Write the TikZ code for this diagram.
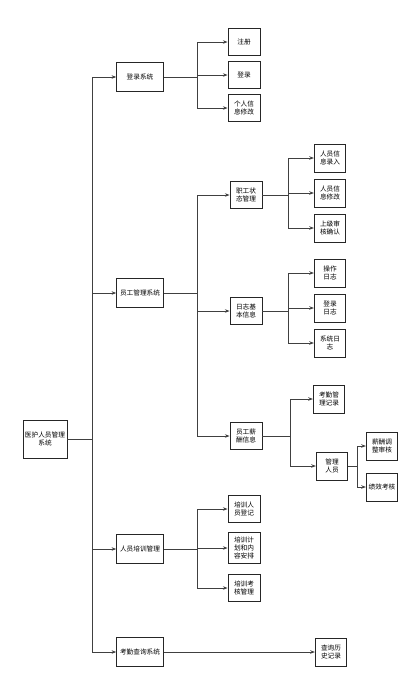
\documentclass[tikz,border=0pt]{standalone}
\usepackage{fontspec}
\newfontfamily\cjk{Noto Sans CJK SC}
\usetikzlibrary{arrows.meta,calc}

\begin{document}
\begin{tikzpicture}[x=0.75pt,y=-0.75pt,
  box/.style={draw=black!85,line width=0.6pt,fill=white,align=center,inner sep=1pt,
    font=\cjk\fontsize{5}{6.2}\selectfont},
  rootbox/.style={box,minimum width=33pt,minimum height=28.5pt},
  lvone/.style={box,minimum width=35pt,minimum height=22pt},
  lvtwo/.style={box,minimum width=24pt,minimum height=20pt},
  lvthree/.style={box,minimum width=23.5pt,minimum height=21pt},
  link/.style={draw=black!75,line width=0.6pt},
  arr/.style={link,-{Stealth[length=3.5pt,width=2.6pt]}}]
  \useasboundingbox (0,0) rectangle (413,690);

  % Root
  \node[rootbox] (root) at (45,439) {医护人员管理\\系统};

  % First level
  \node[lvone] (login) at (140,77) {登录系统};
  \node[lvone] (staff) at (140,293) {员工管理系统};
  \node[lvone] (train) at (140,549) {人员培训管理};
  \node[lvone] (query) at (140,652) {考勤查询系统};

  % Login
  \node[lvtwo] (reg) at (244,42) {注册};
  \node[lvtwo] (sign) at (244,75) {登录};
  \node[lvtwo] (info) at (244,108) {个人信\\息修改};

  % Staff
  \node[lvtwo] (state) at (246,195) {职工状\\态管理};
  \node[lvtwo] (logs) at (246,311) {日志基\\本信息};
  \node[lvtwo] (pay) at (246,436) {员工薪\\酬信息};

  \node[lvthree] (sa) at (330,158) {人员信\\息录入};
  \node[lvthree] (sb) at (330,193) {人员信\\息修改};
  \node[lvthree] (sc) at (330,228) {上级审\\核确认};

  \node[lvthree] (la) at (330,273) {操作\\日志};
  \node[lvthree] (lb) at (330,308) {登录\\日志};
  \node[lvthree] (lc) at (330,343) {系统日\\志};

  \node[lvthree] (pa) at (329,399) {考勤管\\理记录};
  \node[lvthree] (pb) at (332,466) {管理\\人员};
  \node[lvthree] (pba) at (382,446) {薪酬调\\整审核};
  \node[lvthree] (pbb) at (382,487) {绩效考核};

  % Training
  \node[lvtwo] (ta) at (244,509) {培训人\\员登记};
  \node[lvtwo,minimum height=23pt] (tb) at (244,548) {培训计\\划和内\\容安排};
  \node[lvtwo] (tc) at (244,588) {培训考\\核管理};

  % Query
  \node[lvthree] (qa) at (331,652) {查询历\\史记录};

  % Branch points
  \coordinate (btrunk) at (92,439);
  \coordinate (blogin) at (197,77);
  \coordinate (bstaff) at (197,293);
  \coordinate (btrain) at (197,549);
  \coordinate (bstate) at (288,195);
  \coordinate (blogs) at (288,311);
  \coordinate (bpay) at (290,436);
  \coordinate (bpb) at (357,466);

  % Connectors
  \draw[link] (root) -- (btrunk);
  \foreach \c in {login,staff,train,query}
    \draw[arr] (btrunk) |- (\c.west);
  \draw[link] (login) -- (blogin);
  \foreach \c in {reg,sign,info}
    \draw[arr] (blogin) |- (\c.west);
  \draw[link] (staff) -- (bstaff);
  \foreach \c in {state,logs,pay}
    \draw[arr] (bstaff) |- (\c.west);
  \draw[link] (state) -- (bstate);
  \foreach \c in {sa,sb,sc}
    \draw[arr] (bstate) |- (\c.west);
  \draw[link] (logs) -- (blogs);
  \foreach \c in {la,lb,lc}
    \draw[arr] (blogs) |- (\c.west);
  \draw[link] (pay) -- (bpay);
  \foreach \c in {pa,pb}
    \draw[arr] (bpay) |- (\c.west);
  \draw[link] (pb) -- (bpb);
  \foreach \c in {pba,pbb}
    \draw[arr] (bpb) |- (\c.west);
  \draw[link] (train) -- (btrain);
  \foreach \c in {ta,tb,tc}
    \draw[arr] (btrain) |- (\c.west);
  \draw[arr] (query) -- (qa);
\end{tikzpicture}
\end{document}
